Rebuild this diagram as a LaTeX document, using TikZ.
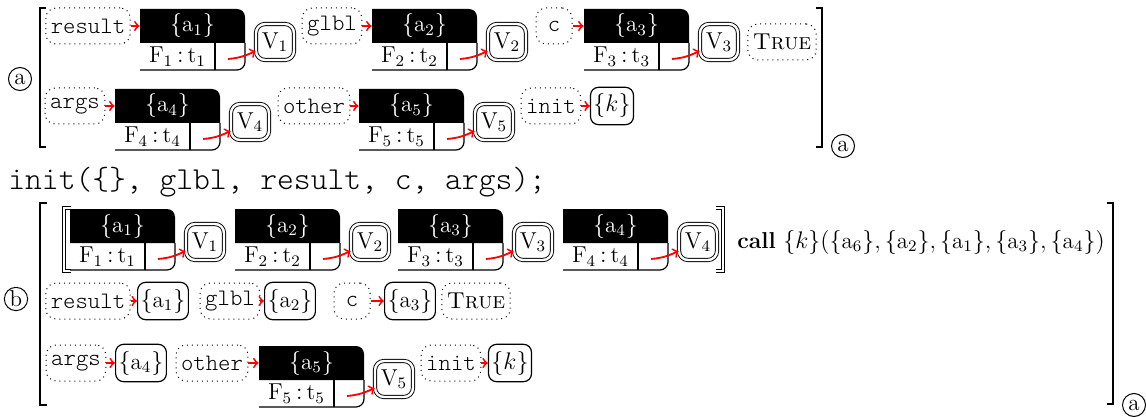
\documentclass[tikz,border=0pt]{standalone}
\usepackage{fontspec}
\setmonofont{Latin Modern Mono Light}
\usepackage{tikz}
\newcommand\msz{\fontsize{11.5}{14}\selectfont}
\tikzset{
  x=0.5pt, y=0.5pt,
  lbl/.style={draw, dotted, line width=0.5pt, rounded corners=5pt, minimum height=18pt, minimum width=18pt, inner xsep=2.5pt, font=\fontsize{11.8}{14}\selectfont\ttfamily},
  sbox/.style={draw, line width=0.6pt, rounded corners=4pt, minimum height=18pt, minimum width=18pt, inner xsep=1.5pt, font=\msz},
  vbox/.style={draw, double, double distance=1.2pt, line width=0.45pt, rounded corners=4.5pt, minimum width=19pt, minimum height=18pt, inner sep=1pt, font=\msz},
  hdr/.style={minimum width=52.5pt, minimum height=17pt, inner sep=0pt, text=white, font=\msz},
  fcell/.style={inner sep=0pt, font=\msz},
  rarr/.style={red, line width=0.9pt, ->},
  circ/.style={circle, draw, line width=0.5pt, inner sep=0.5pt, minimum size=11.5pt, font=\msz},
  brk/.style={line width=0.8pt},
  recline/.style={line width=0.6pt},
}
\newcommand\rec[4]{%
  \fill ({#2},{-#3-34}) -- ({#2},{-#3}) -- ({#2+97},{-#3}) arc[start angle=90, end angle=0, radius=4pt] -- ({#2+105},{-#3-34}) -- cycle;
  \draw[recline] ({#2},{-#3-61}) -- ({#2+97},{-#3-61}) arc[start angle=-90, end angle=0, radius=4pt] -- ({#2+105},{-#3-34});
  \draw[recline] ({#2+75},{-#3-34}) -- ({#2+75},{-#3-61});
  \node[hdr] (h#1) at ({#2+52.5},{-#3-17}) {$\{\mathrm{a}_{#4}\}$};
  \node[fcell] (f#1) at ({#2+37.5},{-#3-47.5}) {$\mathrm{F}_{#4}\,{:}\,\mathrm{t}_{#4}$};
  \coordinate (p#1) at ({#2+88},{-#3-50});
  \node[vbox] (v#1) at ({#2+135},{-#3-33}) {$\mathrm{V}_{#4}$};
  \draw[rarr] (p#1) to[out=5,in=205] (v#1);
}
\begin{document}
\begin{tikzpicture}
\useasboundingbox (0,0) rectangle (1146,-417);
% ---------- panel a ----------
\node[circ] (cal) at (20,-79) {a};
\draw[brk] (46,-8) -- (40,-8) -- (40,-147) -- (46,-147);
\draw[brk] (816,-8) -- (822,-8) -- (822,-147) -- (816,-147);
\node[circ] (car) at (843,-146) {a};
% row 1
\node[lbl] (ra) at (88,-26) {result};
\rec{A1}{140}{9}{1}
\draw[rarr] (ra) -- (hA1);
\node[lbl] (ga) at (332,-26) {glbl};
\rec{A2}{372}{9}{2}
\draw[rarr] (ga) -- (hA2);
\node[lbl] (ca) at (554,-26) {c};
\rec{A3}{584}{9}{3}
\draw[rarr] (ca) -- (hA3);
\node[lbl, font=\msz] (ta) at (782,-42) {\textsc{True}};
% row 2
\node[lbl] (aa) at (75,-106) {args};
\rec{A4}{115}{89}{4}
\draw[rarr] (aa) -- (hA4);
\node[lbl] (oa) at (314,-106) {other};
\rec{A5}{359}{89}{5}
\draw[rarr] (oa) -- (hA5);
\node[lbl] (ia) at (551,-106) {init};
\node[sbox] (ka) at (612,-106) {$\{k\}$};
\draw[rarr] (ia) -- (ka);
% ---------- code line ----------
\node[anchor=base west, inner sep=0pt, font=\fontsize{16}{19}\selectfont\ttfamily] (code) at (8,-190) {init(\{\}, glbl, result, c, args);};
% ---------- panel b ----------
\node[circ] (cbl) at (16,-299) {b};
\draw[brk] (47,-203) -- (40,-203) -- (40,-405) -- (47,-405);
\draw[brk] (1107,-203) -- (1113,-203) -- (1113,-404) -- (1107,-404);
\node[circ] (cbr) at (1134,-405) {a};
% row 1
\draw[double, double distance=1.4pt, line width=0.5pt] (71,-208) -- (64,-208) -- (64,-271) -- (71,-271);
\rec{B1}{70}{209}{1}
\rec{B2}{235}{209}{2}
\rec{B3}{398}{209}{3}
\rec{B4}{563}{209}{4}
\draw[double, double distance=1.4pt, line width=0.5pt] (716,-208) -- (723,-208) -- (723,-271) -- (716,-271);
\node[anchor=west, inner sep=0pt, font=\msz] (call) at (737,-242) {\textbf{call} $\{k\}(\{\mathrm{a}_6\}, \{\mathrm{a}_2\}, \{\mathrm{a}_1\}, \{\mathrm{a}_3\}, \{\mathrm{a}_4\})$};
% row 2
\node[lbl] (rb) at (88,-301) {result};
\node[sbox] (s1) at (163,-301) {$\{\mathrm{a}_1\}$};
\draw[rarr] (rb) -- (s1);
\node[lbl] (gb) at (230,-301) {glbl};
\node[sbox] (s2) at (290,-301) {$\{\mathrm{a}_2\}$};
\draw[rarr] (gb) -- (s2);
\node[lbl] (cb) at (352,-301) {c};
\node[sbox] (s3) at (410,-301) {$\{\mathrm{a}_3\}$};
\draw[rarr] (cb) -- (s3);
\node[lbl, font=\msz] (tb) at (476,-301) {\textsc{True}};
% row 3
\node[lbl] (ab) at (76,-363) {args};
\node[sbox] (s4) at (141,-363) {$\{\mathrm{a}_4\}$};
\draw[rarr] (ab) -- (s4);
\node[lbl] (ob) at (212,-363) {other};
\rec{B5}{259}{346}{5}
\draw[rarr] (ob) -- (hB5);
\node[lbl] (ib) at (451,-363) {init};
\node[sbox] (kb) at (510,-363) {$\{k\}$};
\draw[rarr] (ib) -- (kb);
\end{tikzpicture}
\end{document}
